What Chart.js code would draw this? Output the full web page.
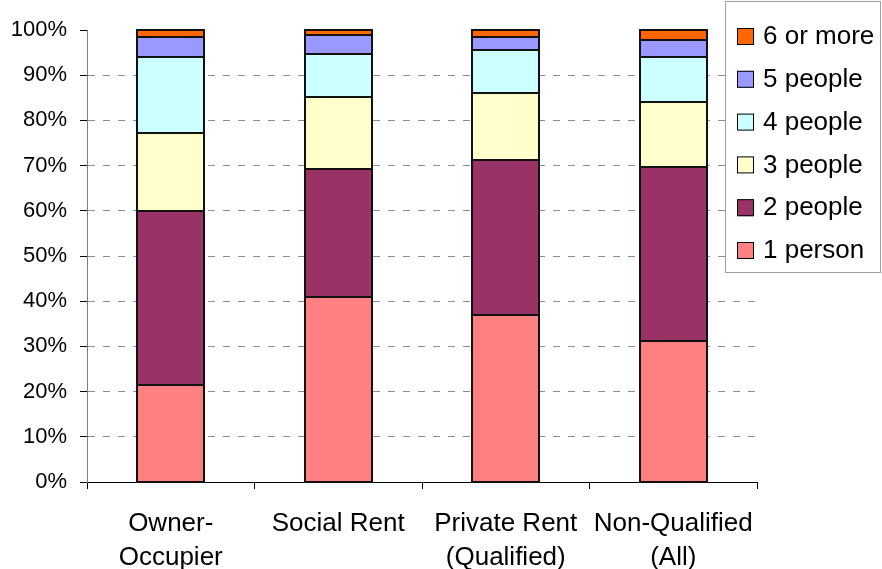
<!DOCTYPE html>
<html>
<head>
<meta charset="utf-8">
<script src="https://cdn.jsdelivr.net/npm/chart.js@4"></script>
<style>
	html, body { margin: 0; padding: 0; background: #fff; }
	#wrap { width: 882px; height: 569px; }
</style>
</head>
<body>
<div id="wrap"><canvas id="hhChart" width="882" height="569"></canvas></div>
<script>
const categories = [['Owner-', 'Occupier'], 'Social Rent', ['Private Rent', '(Qualified)'], ['Non-Qualified', '(All)']];

// household size shares, % of households
const onePerson   = [21.5, 40.9, 36.9, 31.3];
const twoPeople   = [38.5, 28.3, 34.3, 38.3];
const threePeople = [17.3, 16.0, 14.9, 14.5];
const fourPeople  = [16.7,  9.6,  9.5,  9.9];
const fivePeople  = [ 4.5,  4.2,  2.9,  3.7];
const sixOrMore   = [ 1.5,  1.0,  1.5,  2.3];

const seriesNames = ['1 person', '2 people', '3 people', '4 people', '5 people', '6 or more'];
const yTicks = [0, 10, 20, 30, 40, 50, 60, 70, 80, 90, 100];

let colors = ['#ff8080', '#993366', '#ffffcc', '#ccffff', '#9999ff', '#ff6600'];
let values = [onePerson, twoPeople, threePeople, fourPeople, fivePeople, sixOrMore];

let datasets = values.map((v, i) => ({
	label: seriesNames[i],
	data: v,
	backgroundColor: colors[i],
	borderWidth: 0,
	barPercentage: 0.4,
	categoryPercentage: 1
}));

// even black outline around every segment, taken from the bar elements
const barOutline = {
	id: 'barOutline',
	afterDatasetsDraw(chart) {
		const ctx = chart.ctx;
		ctx.save();
		ctx.strokeStyle = '#111';
		ctx.lineWidth = 2;
		chart.data.datasets.forEach((ds, i) => {
			chart.getDatasetMeta(i).data.forEach(bar => {
				const l = Math.round(bar.x - bar.width / 2);
				const r = Math.round(bar.x + bar.width / 2);
				const t = Math.round(Math.min(bar.y, bar.base));
				const b = Math.round(Math.max(bar.y, bar.base));
				ctx.strokeRect(l, t, r - l, b - t);
			});
		});
		ctx.restore();
	}
};

// legend box drawn on top of the plot, like the original
const boxLegend = {
	id: 'boxLegend',
	afterDraw(chart) {
		const ctx = chart.ctx;
		ctx.save();
		ctx.fillStyle = '#fff';
		ctx.fillRect(725, 1, 156, 272);
		ctx.strokeStyle = '#a0a0a0';
		ctx.lineWidth = 1;
		ctx.strokeRect(725.5, 1.5, 155, 271);
		ctx.font = '26px "Liberation Sans", Arial, sans-serif';
		ctx.textBaseline = 'middle';
		ctx.textAlign = 'left';
		for (let k = 0; k < chart.data.datasets.length; k++) {
			const ds = chart.data.datasets[chart.data.datasets.length - 1 - k];
			const cy = 36 + k * 42.8;
			ctx.fillStyle = ds.backgroundColor;
			ctx.fillRect(737, cy - 8, 17, 17);
			ctx.strokeStyle = '#000';
			ctx.strokeRect(737.5, cy - 7.5, 16, 16);
			ctx.fillStyle = '#000';
			ctx.fillText(ds.label, 763, cy + 1);
		}
		ctx.restore();
	}
};

new Chart(document.getElementById('hhChart'), {
	type: 'bar',
	data: { labels: categories, datasets: datasets },
	plugins: [barOutline, boxLegend],
	options: {
		responsive: false,
		animation: false,
		layout: { padding: { top: 30, right: 125, left: 0, bottom: 0 } },
		plugins: {
			legend: { display: false },
			tooltip: { enabled: false }
		},
		scales: {
			x: {
				stacked: true,
				grid: {
					offset: true,
					drawOnChartArea: false,
					drawTicks: true,
					tickLength: 7,
					tickColor: '#000',
					color: '#000'
				},
				border: { color: '#000', width: 1 },
				ticks: {
					color: '#000',
					padding: 18,
					maxRotation: 0,
					autoSkip: false,
					font: { family: '"Liberation Sans", Arial, sans-serif', size: 26, lineHeight: 1.3 }
				},
				afterFit: s => { s.height = 87; }
			},
			y: {
				stacked: true,
				min: 0,
				max: 100,
				afterBuildTicks: s => { s.ticks = yTicks.map(v => ({ value: v })); },
				grid: {
					color: c => (c.tick && (c.tick.value === 0 || c.tick.value === 100)) ? 'rgba(0,0,0,0)' : '#8c8c8c',
					tickBorderDash: [],
					tickColor: '#000',
					tickLength: 7,
					lineWidth: 1
				},
				border: { color: '#808080', width: 1, dash: [7, 8] },
				ticks: {
					color: '#000',
					padding: 13,
					font: { family: '"Liberation Sans", Arial, sans-serif', size: 22 },
					callback: v => v + '%'
				},
				afterFit: s => { s.width = 87; }
			}
		}
	}
});
</script>
</body>
</html>
